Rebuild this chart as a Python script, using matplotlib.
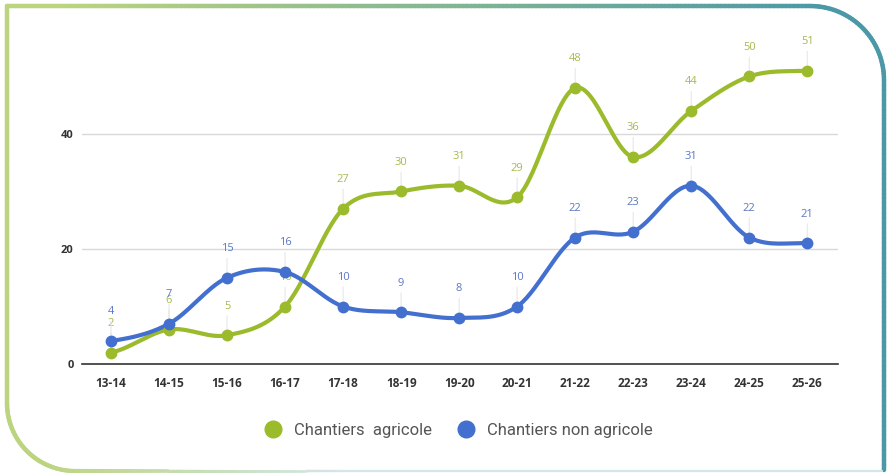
import numpy as np
import matplotlib
matplotlib.use('Agg')
import matplotlib.pyplot as plt
from matplotlib.lines import Line2D
from matplotlib.collections import LineCollection
from matplotlib.colors import to_rgb

# data
seasons = ['13-14', '14-15', '15-16', '16-17', '17-18', '18-19', '19-20',
           '20-21', '21-22', '22-23', '23-24', '24-25', '25-26']
agricole = [2, 6, 5, 10, 27, 30, 31, 29, 48, 36, 44, 50, 51]
non_agricole = [4, 7, 15, 16, 10, 9, 8, 10, 22, 23, 31, 22, 21]

GREEN = '#9bbb2c'
BLUE = '#4370cf'
GREEN_TXT = '#a7b94f'
BLUE_TXT = '#5a78c6'


def smooth(y, n=30):
    # catmull-rom curve through the points (drawing only)
    y = np.asarray(y, float)
    xs, ys = [], []
    for i in range(len(y) - 1):
        p0 = y[i - 1] if i > 0 else y[i]
        p1, p2 = y[i], y[i + 1]
        p3 = y[i + 2] if i + 2 < len(y) else y[i + 1]
        t = np.linspace(0, 1, n, endpoint=False)
        yy = 0.5 * ((2 * p1) + (-p0 + p2) * t + (2 * p0 - 5 * p1 + 4 * p2 - p3) * t ** 2
                    + (-p0 + 3 * p1 - 3 * p2 + p3) * t ** 3)
        xs.append(i + t)
        ys.append(yy)
    xs.append([len(y) - 1])
    ys.append([y[-1]])
    return np.concatenate(xs), np.concatenate(ys)


W, H = 891, 473
fig = plt.figure(figsize=(W / 100, H / 100), dpi=100)
fig.patch.set_facecolor('white')

# frame
bg = fig.add_axes([0, 0, 1, 1], zorder=0)
bg.set_xlim(0, W)
bg.set_ylim(H, 0)
bg.axis('off')

x0, y0, x1, y1 = 7, 6, 884, 471
r_tr, r_bl = 74, 68
pts = []
for yy in np.linspace(y1 - r_bl, y0, 60):
    pts.append((x0, yy))
for xx in np.linspace(x0, x1 - r_tr, 200):
    pts.append((xx, y0))
for a in np.linspace(np.pi / 2, 0, 40):
    pts.append((x1 - r_tr + r_tr * np.cos(a), y0 + r_tr - r_tr * np.sin(a)))
for yy in np.linspace(y0 + r_tr, y1 - 1, 80):
    pts.append((x1, yy))
pts = np.array(pts)
c_green = np.array(to_rgb('#bcd47f'))
c_teal = np.array(to_rgb('#4b98a6'))
segs = np.stack([pts[:-1], pts[1:]], axis=1)
cols = []
for s in segs:
    f = np.clip((s[0][0] - 60) / (x1 - 120), 0, 1)
    cols.append(c_green * (1 - f) + c_teal * f)
bg.add_collection(LineCollection(segs, colors=cols, linewidths=3.2, capstyle='round'))

# bottom-left arc and bottom edge
bpts = []
for a in np.linspace(np.pi, np.pi * 1.5, 40):
    bpts.append((x0 + r_bl + r_bl * np.cos(a), y1 - r_bl - r_bl * np.sin(a)))
for xx in np.linspace(x0 + r_bl, x1 - 2, 200):
    bpts.append((xx, y1))
bpts = np.array(bpts)
bsegs = np.stack([bpts[:-1], bpts[1:]], axis=1)
c_pale = np.array(to_rgb('#d3e6e8'))
bcols, bw = [], []
for s in bsegs:
    f = np.clip((s[0][0] - 40) / 300, 0, 1)
    bcols.append(c_green * (1 - f) + c_pale * f)
    bw.append(3.2 * (1 - f) + 1.6 * f)
bg.add_collection(LineCollection(bsegs, colors=bcols, linewidths=bw, capstyle='round'))

# chart
ax = fig.add_axes([82 / W, (H - 364) / H, 756 / W, 345 / H], zorder=1)
ax.patch.set_alpha(0)
ax.set_xlim(-0.5, 12.53)
ax.set_ylim(0, 60)
for sp in ['top', 'right', 'left']:
    ax.spines[sp].set_visible(False)
ax.spines['bottom'].set_color('#333333')
ax.spines['bottom'].set_linewidth(1.2)
ax.set_yticks([0, 20, 40])
ax.yaxis.grid(True, color='#d9d9d9', linewidth=1)
ax.set_axisbelow(True)
ax.tick_params(axis='both', length=0, labelsize=8, colors='#333333')
ax.tick_params(axis='y', pad=6)
ax.tick_params(axis='x', pad=9, labelsize=8.5)
ax.set_xticks(range(len(seasons)))
ax.set_xticklabels(seasons, fontweight='bold', family='Open Sans')
for lab in ax.get_yticklabels():
    lab.set_family('Open Sans')
    lab.set_fontweight('bold')

for vals, col, tcol in [(agricole, GREEN, GREEN_TXT), (non_agricole, BLUE, BLUE_TXT)]:
    sx, sy = smooth(vals)
    ax.plot(sx, sy, color=col, lw=3.0, solid_capstyle='round', zorder=3)
    ax.plot(range(len(vals)), vals, 'o', color=col, ms=7.5, zorder=4)
    for i, v in enumerate(vals):
        ax.annotate(str(v), xy=(i, v), xytext=(0, 21), textcoords='offset points',
                    ha='center', va='center', fontsize=8, color=tcol,
                    family='Open Sans', zorder=2,
                    arrowprops=dict(arrowstyle='-', color='#e4e4e4', lw=0.7,
                                    shrinkA=1, shrinkB=0))

handles = [Line2D([], [], marker='o', ls='', color=GREEN, ms=12),
           Line2D([], [], marker='o', ls='', color=BLUE, ms=12)]
leg = fig.legend(handles, ['Chantiers  agricole', 'Chantiers non agricole'],
                 loc='center', bbox_to_anchor=(0.510, 1 - 430 / H), ncol=2,
                 frameon=False, handletextpad=0.3, columnspacing=1.0,
                 prop={'family': 'Roboto', 'size': 12})
for t in leg.get_texts():
    t.set_color('#555555')

fig.savefig('out.png', dpi=100)
